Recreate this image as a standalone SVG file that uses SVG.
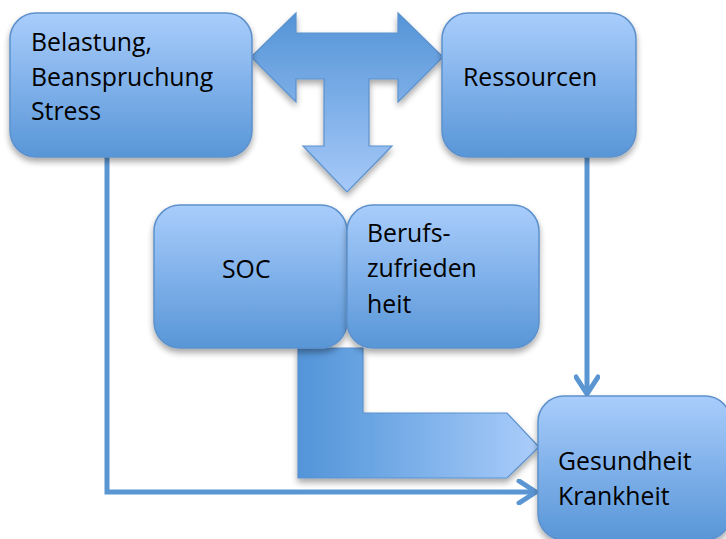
<svg xmlns="http://www.w3.org/2000/svg" width="726" height="539" viewBox="0 0 726 539">
<defs>
<linearGradient id="gBox" x1="0" y1="0" x2="0" y2="1">
<stop offset="0" stop-color="#a9cdfb"/>
<stop offset="0.5" stop-color="#80b1ea"/>
<stop offset="1" stop-color="#5896d7"/>
</linearGradient>
<linearGradient id="gT" x1="0" y1="0" x2="0" y2="1">
<stop offset="0" stop-color="#5494d7"/>
<stop offset="1" stop-color="#a6c9f8"/>
</linearGradient>
<linearGradient id="gL" x1="0" y1="0" x2="1" y2="0">
<stop offset="0" stop-color="#5394d8"/>
<stop offset="0.3" stop-color="#6aa5e3"/>
<stop offset="1" stop-color="#abcdfa"/>
</linearGradient>
<filter id="sh" x="-20%" y="-20%" width="140%" height="150%">
<feGaussianBlur in="SourceAlpha" stdDeviation="3"/>
<feOffset dx="0" dy="4" result="b"/>
<feComponentTransfer><feFuncA type="linear" slope="0.35"/></feComponentTransfer>
<feMerge><feMergeNode/><feMergeNode in="SourceGraphic"/></feMerge>
</filter>
<marker id="chev" viewBox="0 0 24 26" markerWidth="24" markerHeight="26" refX="20" refY="13" orient="auto" markerUnits="userSpaceOnUse">
<path d="M3,2 L20,13 L3,24" fill="none" stroke="#5b96d3" stroke-width="5" stroke-linecap="round" stroke-linejoin="round"/>
</marker>
</defs>
<style>
.box{fill:url(#gBox);stroke:#5d91cc;stroke-width:1.5;filter:url(#sh)}
.t{font-family:"Open Sans","DejaVu Sans",sans-serif;font-size:24.8px;fill:#000}
.ln{fill:none;stroke:#5b96d3;stroke-width:5}
.big{stroke:#5b91cd;stroke-width:1.2;filter:url(#sh)}
</style>
<g id="connectors">
<path class="ln" d="M107,157 V492 H536" marker-end="url(#chev)"/>
<path class="ln" d="M587,157 V394" marker-end="url(#chev)"/>
<polygon id="t-arrow" class="big" fill="url(#gT)" points="251,57 296,13 296,33 398,33 398,13 443,57 398,102 398,79 369,79 369,146 392,146 347,192 303,146 324,146 324,79 296,79 296,102"/>
<polygon id="l-arrow" class="big" fill="url(#gL)" points="298,348 363,348 363,413 507,413 539,447 507,478 298,478"/>
</g>
<g id="belastung">
<rect class="box" x="10" y="13" width="242" height="144" rx="26"/>
<text class="t" x="31" y="51">Belastung,</text>
<text class="t" x="31" y="86">Beanspruchung</text>
<text class="t" x="31" y="120">Stress</text>
</g>
<g id="ressourcen">
<rect class="box" x="442" y="13" width="194" height="144" rx="26"/>
<text class="t" x="463" y="86">Ressourcen</text>
</g>
<g id="soc">
<rect class="box" x="154" y="205" width="193" height="143" rx="26"/>
<text class="t" x="222" y="278">SOC</text>
</g>
<g id="berufszufriedenheit">
<rect class="box" x="347" y="205" width="192" height="143" rx="26"/>
<text class="t" x="367" y="242">Berufs-</text>
<text class="t" x="367" y="277">zufrieden</text>
<text class="t" x="367" y="313">heit</text>
</g>
<g id="gesundheit">
<rect class="box" x="538" y="396" width="193" height="144" rx="26"/>
<text class="t" x="558" y="470">Gesundheit</text>
<text class="t" x="558" y="505">Krankheit</text>
</g>
</svg>
